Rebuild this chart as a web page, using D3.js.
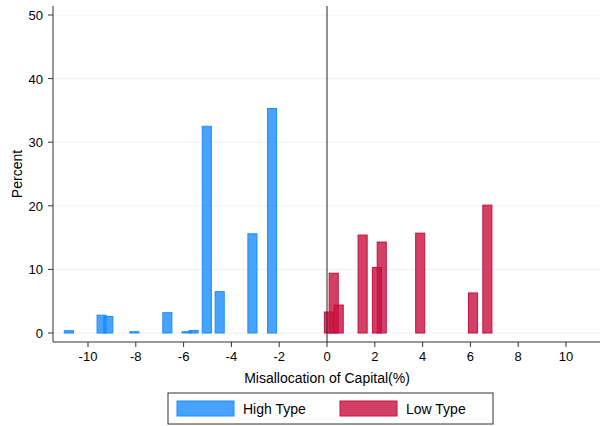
<!DOCTYPE html><html><head><meta charset="utf-8"><script src="https://cdn.jsdelivr.net/npm/d3@7"></script>
<style>body{margin:0;background:#fff}text{font-family:Arial,"Liberation Sans",sans-serif}</style></head><body><svg id="c" width="605" height="426"></svg>
<script>
const highX=[-10.8,-9.43,-9.15,-8.06,-6.68,-5.87,-5.58,-5.03,-4.49,-3.12,-2.30];
const highY=[0.36,2.8,2.6,0.2,3.2,0.2,0.4,32.5,6.5,15.6,35.3];
const lowX=[0.08,0.28,0.49,1.49,2.09,2.29,3.90,6.11,6.71];
const lowY=[3.3,9.4,4.4,15.4,10.3,14.3,15.7,6.3,20.1];
const xTicks=[-10,-8,-6,-4,-2,0,2,4,6,8,10];
const yTicks=[0,10,20,30,40,50];
const svg=d3.select("#c");
const x=d3.scaleLinear().domain([0,10]).range([327,566]);
const y=d3.scaleLinear().domain([0,50]).range([333,15]);
const L=53,R=600,T=6,B=342;
svg.append("rect").attr("x",0).attr("y",0).attr("width",605).attr("height",426).attr("fill","#fff");
yTicks.forEach(t=>svg.append("line").attr("x1",L).attr("x2",R).attr("y1",y(t)).attr("y2",y(t)).attr("stroke","#eaf2f3").attr("stroke-width",1));
const bw=x(0.38)-x(0);
function bars(xs,ys,fill,stroke){
  svg.append("g").selectAll("rect").data(xs.map((v,i)=>[v,ys[i]])).join("rect")
   .attr("x",d=>x(d[0])-bw/2).attr("width",bw).attr("y",d=>y(d[1])).attr("height",d=>y(0)-y(d[1]))
   .attr("fill",fill).attr("fill-opacity",0.8).attr("stroke",stroke).attr("stroke-width",1);
}
bars(highX,highY,"#1a8cff","#1a8cff");
bars(lowX,lowY,"#c8103f","#c8103f");
svg.append("line").attr("x1",x(0)).attr("x2",x(0)).attr("y1",T).attr("y2",B).attr("stroke","#222");
svg.append("line").attr("x1",L).attr("x2",L).attr("y1",T).attr("y2",B).attr("stroke","#333");
svg.append("line").attr("x1",L).attr("x2",R).attr("y1",B).attr("y2",B).attr("stroke","#333");
const ax=svg.append("g");
xTicks.forEach(t=>{ax.append("line").attr("x1",x(t)).attr("x2",x(t)).attr("y1",B).attr("y2",B+5).attr("stroke","#333");
 ax.append("text").attr("x",x(t)).attr("y",B+19).attr("text-anchor","middle").attr("font-size",13).text(t<0?"-"+(-t):t);});
yTicks.forEach(t=>{ax.append("line").attr("x1",L-5).attr("x2",L).attr("y1",y(t)).attr("y2",y(t)).attr("stroke","#333");
 ax.append("text").attr("x",L-10).attr("y",y(t)+5).attr("text-anchor","end").attr("font-size",13).text(t);});
svg.append("text").attr("x",327).attr("y",383).attr("text-anchor","middle").attr("font-size",14).text("Misallocation of Capital(%)");
svg.append("text").attr("transform","translate(22,174) rotate(-90)").attr("text-anchor","middle").attr("font-size",14).text("Percent");
svg.append("rect").attr("x",168).attr("y",393).attr("width",325).attr("height",31).attr("fill","#fff").attr("stroke","#333");
[["High Type","#1a8cff",177],["Low Type","#c8103f",340]].forEach(([n,c,px])=>{
 svg.append("rect").attr("x",px).attr("y",401).attr("width",57).attr("height",15).attr("fill",c).attr("fill-opacity",0.8).attr("stroke",c);
 svg.append("text").attr("x",px+66).attr("y",414).attr("font-size",14).text(n);});
</script></body></html>
